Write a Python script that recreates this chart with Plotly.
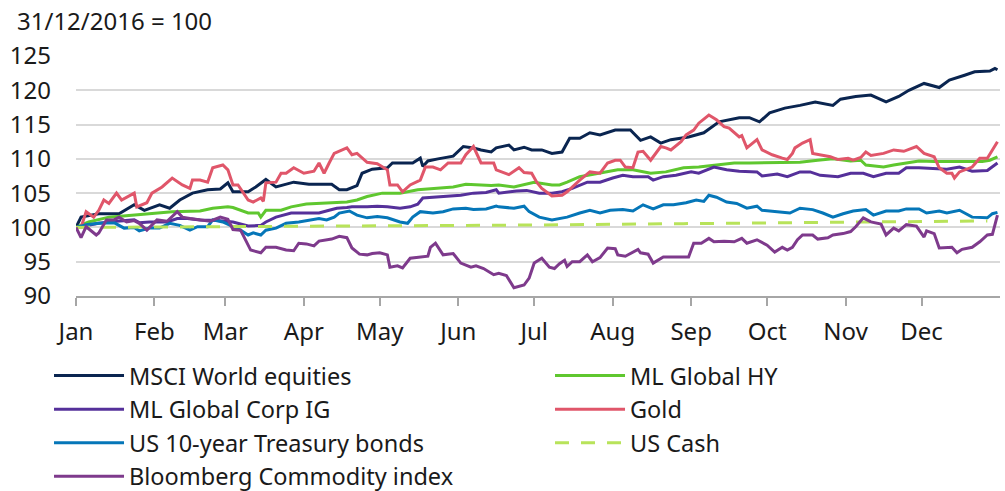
import pandas as pd
import plotly.graph_objects as go

# Day-of-year offsets (from 2017-01-01) and index levels (31/12/2016 = 100)
msci_days = [0,2,9,17,23,27,33,37,41,46,52,57,60,62,68,71,75,79,86,92,101,104,107,111,113,117,123,125,133,136,
             137,139,143,149,153,157,160,164,166,171,173,177,180,184,188,192,195,199,203,207,213,219,223,227,231,235,
             242,248,254,262,266,270,274,280,286,292,299,302,308,314,320,325,329,335,341,345,351,355,361,363,364]
msci_vals = [100,101.5,102,102,103.3,102.5,103.3,102.8,104,105,105.5,105.6,106.5,105.2,105.2,105.9,107,105.9,106.6,106.3,
             106.3,105.5,105.5,106.1,107.9,108.5,108.7,109.4,109.4,110.1,108.9,109.7,110,110.4,111.8,111.6,111.3,111,111.6,112,
             111.3,111.7,111.3,111.3,110.8,111,113,113,113.8,113.5,114.2,114.2,112.7,113.2,112.3,112.8,113.2,113.8,115.4,116,
             116,115.4,116.7,117.4,117.8,118.3,117.8,118.7,119.1,119.3,118.3,119.1,120,121,120.4,121.5,122.2,122.7,122.8,123.2,123]

hy_days = [0,5,13,23,30,38,49,54,60,62,68,72,73,75,81,85,91,102,107,111,115,121,128,135,141,149,154,160,164,167,
           173,181,184,188,191,194,199,207,214,220,227,233,240,246,252,260,266,273,279,286,293,299,306,310,312,319,323,328,333,339,
           345,352,358,361,364]
hy_vals = [100,100.8,101.5,101.8,102.1,102.3,102.4,102.8,103,102.9,102.1,102.1,101.5,102.5,102.5,103,103.4,103.6,103.7,104,
           104.5,105,105,105.5,105.7,105.9,106.3,106.2,106.1,106.2,105.9,106.6,106.4,106.2,106.2,106.6,107.4,107.9,108.4,108.4,
           107.9,108.1,108.7,108.8,109.1,109.4,109.4,109.4,109.5,109.5,109.8,110,109.7,109.8,109.1,108.8,109.1,109.4,109.7,109.6,
           109.6,109.7,109.6,109.8,110.3]

ig_days = [0,9,16,23,25,29,36,40,44,49,56,62,68,73,75,79,85,88,96,100,103,107,109,115,119,123,128,132,135,137,
           141,147,152,157,162,166,167,174,178,183,188,192,196,202,207,212,216,220,226,228,232,237,243,246,252,257,262,269,271,277,
           281,286,290,294,301,306,311,315,320,325,328,333,339,344,349,354,360,362,364]
ig_vals = [100,100.6,100.9,101.1,100.7,100.8,100.8,101.3,101.3,101.1,101,100.8,100.2,100.3,100.8,101.5,102.1,102.1,102.1,102.5,
           102.8,102.9,103,103,103.1,103,102.8,103,103.4,104.3,104.4,104.5,104.7,105,105.1,105.5,105,105.3,105.4,105,
           105,105.2,105.7,106.6,106.6,107.2,107.6,107.4,107.4,106.9,107.4,107.6,108.1,107.9,108.8,108.4,108.2,108.1,107.5,107.8,
           107.4,108.1,108.1,107.6,107.4,107.9,107.9,107.4,107.9,107.9,108.7,108.7,108.6,108.5,108.8,108.2,108.3,108.8,109.4]

gold_days = [0,2,4,7,9,11,13,16,18,23,24,28,30,34,38,42,45,46,49,52,54,58,60,62,64,68,70,73,74,75,
             79,81,83,86,90,94,96,98,100,102,107,109,111,115,119,123,124,127,129,132,136,138,141,144,147,152,154,157,160,165,
             166,171,175,177,180,182,184,188,192,194,199,203,207,210,213,215,217,220,222,224,227,231,233,235,239,241,244,246,250,253,
             256,258,262,263,265,269,271,275,279,281,283,284,287,290,291,294,298,301,305,307,310,312,314,319,323,327,332,335,339,341,
             344,346,347,349,352,354,357,360,362,364]
gold_vals = [100,100,102.3,101.5,102.5,104,103.5,105,104,105,103,103.6,105,105.9,107.2,106.2,105.7,106.9,106.9,106.6,
             108.7,109.1,108.4,106.2,106.2,104,103.7,104.3,103.8,106.5,106.6,107.9,107.9,108.7,107.9,108.2,109.4,107.9,109.4,110.8,
             111.6,110.6,110.8,109.5,109.3,108.4,106.2,106.2,105.2,106.2,106.9,108.8,108.8,108.4,109.4,109.4,110.6,111.8,109.4,109.4,
             108.4,107.7,108.7,108,107.9,106.6,105.7,104.6,104.7,105.2,106.9,108.1,107.9,109.4,109.8,109.8,108.8,108.7,111,111.1,
             109.8,111.8,111.6,111.3,112.5,113.5,114.2,115.2,116.4,115.7,114.7,114.5,113.2,113.4,111.6,112.8,111.3,110.6,110.1,109.9,
             110.8,111.6,112.3,112.8,110.8,110.6,110.3,109.9,110.1,109.8,110.2,111,110.5,110.8,111.3,111.1,111.8,110.8,110.3,108.7,
             107.9,107.9,107.2,108.1,108.5,108.8,110.1,110.1,111.3,112.5]

ust_days = [0,4,9,15,19,23,25,29,33,37,41,45,48,52,54,58,62,65,68,70,73,75,79,83,88,92,96,99,102,104,
            108,111,115,119,123,128,131,133,136,141,145,149,154,157,162,166,167,173,177,179,183,188,194,199,203,207,211,216,220,224,
            228,232,236,241,245,248,250,253,257,261,265,269,271,277,282,286,291,295,299,303,307,312,315,320,325,328,333,336,341,344,
            349,354,360,362,364]
ust_vals = [100,100.4,100.6,100.7,99.9,100,99.5,99.9,99.9,100.6,100.3,99.6,100.1,100.1,101.1,100.8,100.1,99.6,98.9,99.2,
            98.9,99.6,99.9,100.6,100.8,101.1,101.3,101.1,101.5,102.1,102.4,101.8,101.4,101.6,101.4,100.8,100.6,101.5,102.3,102.1,
            102.3,102.7,102.8,102.6,102.7,103.1,103,102.8,103.1,102.3,101.5,101.1,101.5,102.1,102.5,102.1,102.5,102.6,102.4,103.3,
            102.7,103.3,103.3,103.6,104,103.8,104.7,104.4,103.7,103.5,102.8,103.1,102.5,102.3,102.1,102.8,102.6,102.1,101.5,102,
            102.4,102.6,101.8,102.4,102.4,102.7,102.7,102.1,102.4,102.1,102.5,101.5,101.4,102,102.2]

cash_days = [0,60,120,180,240,300,360]
cash_vals = [100,100.1,100.2,100.35,100.55,100.75,100.95]

cmdty_days = [0,2,4,8,9,12,15,17,20,23,25,28,32,36,40,42,45,49,53,57,60,62,65,69,73,75,79,83,86,88,
              91,94,96,101,104,107,109,112,115,117,120,123,124,127,129,132,136,139,140,142,145,149,152,156,158,161,165,167,170,173,
              177,179,181,184,187,189,191,193,194,196,199,202,204,207,210,213,214,217,222,223,226,228,232,236,242,244,247,250,252,256,
              260,263,265,269,273,276,279,281,283,285,287,291,293,297,299,303,306,308,311,314,318,320,323,325,328,332,335,336,339,341,
              344,346,348,350,354,357,360,362,364]
cmdty_vals = [100,98.5,100.1,98.9,99.2,101.1,101.1,101.5,100.8,101,100.6,99.6,101.1,100.9,102.3,101.5,101.3,101.1,100.9,101.5,
              101.2,99.7,99.6,96.7,96.3,97.1,97.1,96.7,96.6,97.7,97.6,97.3,98,98.3,98.7,98.5,97,96.1,96,96.2,
              96.3,96,94.2,94.4,94.1,95.5,95.7,95.8,97.1,97.7,96,96.2,94.8,94.2,94.4,94,93.1,93.3,93,91.2,
              91.6,92.6,94.8,95.5,94.2,94,94.7,95.2,94.3,95,95,96,95,95.6,97,96.9,96,95.8,96.8,96.3,
              96.1,94.8,95.7,95.7,95.7,97.7,97.7,98.4,97.9,98,97.9,98.4,97.7,98.2,97.4,96.4,97.1,96.7,97.1,98.2,
              98.9,98.9,98.3,98.5,98.9,99.1,99.4,100.1,101.4,100.8,100.5,98.9,99.9,99.5,100.4,100.2,98.6,99.5,99.1,97,
              97,97.1,96.3,96.8,97.1,97.9,98.9,99,101.8]

month_starts = ["2017-%02d-01" % m for m in range(1, 13)]
month_labels = ["Jan", "Feb", "Mar", "Apr", "May", "Jun", "Jul", "Aug", "Sep", "Oct", "Nov", "Dec"]
y_ticks = [90, 95, 100, 105, 110, 115, 120, 125]

BASE = pd.Timestamp("2017-01-01")


def to_dates(days):
    return [BASE + pd.Timedelta(days=d) for d in days]


series = [
    ("MSCI World equities", msci_days, msci_vals, "#0a2550", "solid", "legend"),
    ("ML Global HY", hy_days, hy_vals, "#5fc72f", "solid", "legend2"),
    ("ML Global Corp IG", ig_days, ig_vals, "#55309a", "solid", "legend"),
    ("Gold", gold_days, gold_vals, "#e0566a", "solid", "legend2"),
    ("US 10-year Treasury bonds", ust_days, ust_vals, "#0576b8", "solid", "legend"),
    ("US Cash", cash_days, cash_vals, "#b8e35a", "14px,12px", "legend2"),
    ("Bloomberg Commodity index", cmdty_days, cmdty_vals, "#7e3a8c", "solid", "legend"),
]

FONT = "Noto Sans, Open Sans, sans-serif"
TXT = "#1a1a1a"

fig = go.Figure()
for name, d, v, col, dash, lg in series:
    fig.add_trace(go.Scatter(
        x=to_dates(d), y=v, mode="lines", name=name, legend=lg,
        line=dict(color=col, width=3, dash=dash),
    ))

legend_common = dict(
    orientation="v", xanchor="left", yanchor="top",
    font=dict(family=FONT, size=23.5, color=TXT),
    bgcolor="rgba(0,0,0,0)", itemwidth=70, tracegroupgap=0,
    maxheight=300,
)

fig.update_layout(
    width=1005, height=491,
    margin=dict(l=76, r=5, t=56, b=195, autoexpand=False),
    paper_bgcolor="white", plot_bgcolor="white",
    font=dict(family=FONT, size=24, color=TXT),
    showlegend=True,
    legend=dict(x=-0.0292, y=-0.241, **legend_common),
    legend2=dict(x=0.513, y=-0.241, **legend_common),
    xaxis=dict(
        type="date", range=["2017-01-01", "2018-01-01"],
        tickvals=month_starts, ticktext=month_labels,
        ticks="outside", ticklen=8, tickwidth=2, tickcolor="#a6a6a6",
        showline=True, linecolor="#a6a6a6", linewidth=2,
        showgrid=False, zeroline=False,
        tickfont=dict(family=FONT, size=24, color=TXT),
        ticklabelstandoff=5,
    ),
    yaxis=dict(
        range=[90, 125], tickvals=y_ticks,
        showgrid=True, gridcolor="#d9d9d9", gridwidth=2,
        showline=False, zeroline=False, ticks="",
        tickfont=dict(family=FONT, size=24, color=TXT),
        ticklabelstandoff=24,
    ),
    annotations=[dict(
        text="31/12/2016 = 100", xref="paper", yref="paper",
        x=-0.066, y=1.15, xanchor="left", yanchor="middle",
        showarrow=False, font=dict(family=FONT, size=24, color=TXT),
    )],
)

fig.write_html(
    "out.html",
    config={"displayModeBar": False},
    post_script="document.body.style.margin='0';document.body.style.overflow='hidden';",
)
